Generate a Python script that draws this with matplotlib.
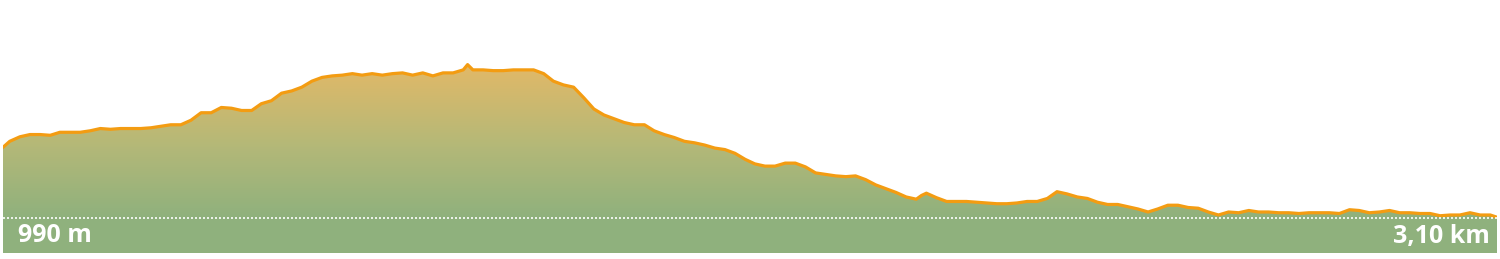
import numpy as np
import matplotlib
matplotlib.use("Agg")
import matplotlib.pyplot as plt
from matplotlib.colors import LinearSegmentedColormap

# distance along the route (km) and elevation (m)
distance_km = [0.000, 0.014, 0.035, 0.056, 0.077, 0.098, 0.118, 0.139, 0.160, 0.181,
               0.202, 0.223, 0.244, 0.265, 0.286, 0.307, 0.327, 0.348, 0.369, 0.390,
               0.411, 0.432, 0.453, 0.474, 0.495, 0.516, 0.536, 0.557, 0.578, 0.599,
               0.620, 0.641, 0.662, 0.683, 0.704, 0.725, 0.745, 0.766, 0.787, 0.808,
               0.829, 0.850, 0.871, 0.892, 0.913, 0.934, 0.955, 0.964, 0.975, 0.996,
               1.017, 1.038, 1.059, 1.080, 1.101, 1.122, 1.142, 1.163, 1.184, 1.205,
               1.226, 1.247, 1.268, 1.289, 1.310, 1.331, 1.351, 1.372, 1.393, 1.414,
               1.435, 1.456, 1.477, 1.498, 1.519, 1.540, 1.560, 1.581, 1.602, 1.623,
               1.644, 1.665, 1.686, 1.707, 1.728, 1.749, 1.769, 1.790, 1.811, 1.832,
               1.853, 1.874, 1.895, 1.906, 1.916, 1.937, 1.958, 1.978, 1.999, 2.020,
               2.041, 2.062, 2.083, 2.104, 2.125, 2.146, 2.167, 2.187, 2.208, 2.229,
               2.250, 2.271, 2.292, 2.313, 2.334, 2.355, 2.376, 2.396, 2.417, 2.438,
               2.459, 2.480, 2.501, 2.522, 2.543, 2.564, 2.585, 2.605, 2.626, 2.647,
               2.668, 2.689, 2.710, 2.731, 2.752, 2.773, 2.794, 2.814, 2.835, 2.856,
               2.877, 2.898, 2.919, 2.940, 2.961, 2.982, 3.003, 3.023, 3.044, 3.065,
               3.086, 3.100]
elevation_m = [1037.0, 1041.0, 1044.0, 1045.5, 1045.5, 1045.0, 1047.0, 1047.0, 1047.0, 1048.0,
               1049.5, 1049.0, 1049.5, 1049.5, 1049.5, 1050.0, 1051.0, 1052.0, 1052.0, 1055.0,
               1060.0, 1060.0, 1063.5, 1063.0, 1061.5, 1061.5, 1066.0, 1068.0, 1073.0, 1074.5,
               1077.0, 1081.0, 1083.5, 1084.5, 1085.0, 1086.0, 1085.0, 1086.0, 1085.0, 1086.0,
               1086.5, 1085.0, 1086.5, 1084.5, 1086.5, 1086.5, 1088.5, 1092.0, 1088.5, 1088.5,
               1088.0, 1088.0, 1088.5, 1088.5, 1088.5, 1086.0, 1081.0, 1078.5, 1077.0, 1070.0,
               1062.5, 1058.5, 1056.0, 1053.5, 1052.0, 1052.0, 1048.0, 1045.5, 1043.5, 1041.0,
               1040.0, 1038.5, 1036.5, 1035.5, 1033.0, 1029.0, 1026.0, 1024.5, 1024.5, 1026.5,
               1026.5, 1024.0, 1020.0, 1019.0, 1018.0, 1017.5, 1018.0, 1015.5, 1012.0, 1009.5,
               1007.0, 1004.0, 1002.5, 1005.0, 1006.5, 1003.5, 1001.0, 1001.0, 1001.0, 1000.5,
               1000.0, 999.5, 999.5, 1000.0, 1001.0, 1001.0, 1003.0, 1007.5, 1006.0, 1004.0,
               1003.0, 1000.5, 999.0, 999.0, 997.5, 996.0, 994.0, 996.0, 998.5, 998.5,
               997.0, 996.5, 994.0, 992.0, 994.0, 993.5, 995.0, 994.0, 994.0, 993.5,
               993.5, 993.0, 993.5, 993.5, 993.5, 993.0, 995.5, 995.0, 993.5, 994.0,
               995.0, 993.5, 993.5, 993.0, 993.0, 991.5, 992.0, 992.0, 993.5, 992.0,
               992.0, 990.5]

min_label = "990 m"
dist_label = "3,10 km"

MIN_ELEV = 990.0
PX = 0.665  # metres per pixel (display scale)

fig = plt.figure(figsize=(15, 2.59), dpi=100)
ax = fig.add_axes([3 / 1500, 6 / 259, 1494 / 1500, 253 / 259])
ax.set_xlim(distance_km[0], distance_km[-1])
y_bottom = MIN_ELEV - 35 * PX
y_top = MIN_ELEV + 218 * PX
ax.set_ylim(y_bottom, y_top)
ax.axis("off")

# green band under the baseline
ax.axhspan(y_bottom, MIN_ELEV, color="#8fb17d", zorder=1, lw=0)

# gradient fill under profile
cmap = LinearSegmentedColormap.from_list(
    "prof", [(0.0, "#8fb17d"), (0.45, "#b3b878"), (1.0, "#e4b967")])
top_e = max(elevation_m)
grad = np.linspace(0, 1, 256).reshape(-1, 1)
im = ax.imshow(grad, aspect="auto", cmap=cmap, origin="lower",
               extent=[distance_km[0], distance_km[-1], MIN_ELEV, top_e + 2],
               zorder=2)
poly = ax.fill_between(distance_km, MIN_ELEV, elevation_m, color="none", lw=0)
path = poly.get_paths()[0]
im.set_clip_path(path, transform=ax.transData)

ax.plot(distance_km, elevation_m, color="#f39c12", lw=2.3, zorder=4,
        solid_joinstyle="round", solid_capstyle="round")

# dotted baseline
ax.axhline(MIN_ELEV, color="white", lw=1.2, ls=(0, (1.2, 1.2)), zorder=5)

font = dict(family=["Open Sans", "DejaVu Sans"], fontweight="bold",
            fontsize=18, color="white", zorder=6)
fig.text(18 / 1500, 1 - 242.5 / 259, min_label, ha="left", va="baseline", **font)
fig.text(1490 / 1500, 1 - 242.5 / 259, dist_label, ha="right", va="baseline", **font)

fig.savefig("out.png", dpi=100, facecolor="white")
